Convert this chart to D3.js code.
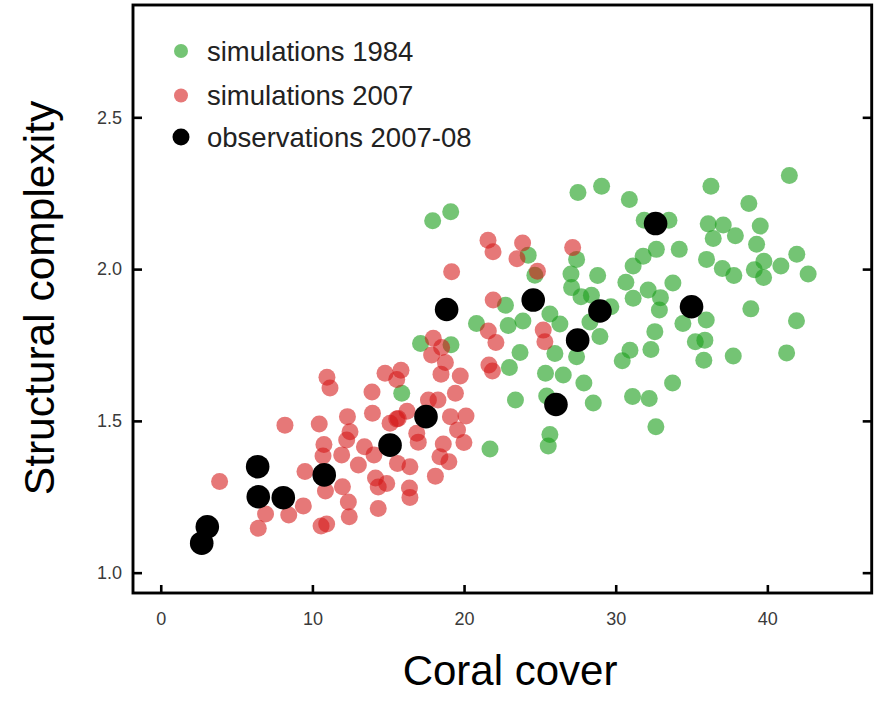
<!DOCTYPE html>
<html>
<head>
<meta charset="utf-8">
<script src="https://cdn.jsdelivr.net/npm/d3@7"></script>
<style>
  html, body { margin: 0; padding: 0; background: #fff; }
  svg { display: block; }
  text { font-family: "Liberation Sans", Arial, sans-serif; }
</style>
</head>
<body>
<svg id="chart" width="880" height="701"></svg>
<script>
// ---- Data (coral cover %, structural complexity) ----
const sim1984X = [17.93,19.12,27.51,29.07,30.90,31.88,33.51,36.28,41.45,38.78,36.10,37.09,37.89,36.43,39.53,39.29,41.94,42.69,40.89,39.77,39.14,39.75,35.99,37.03,37.79,34.19,32.68,31.81,31.15,30.67,33.77,32.14,31.15,32.95,32.88,34.43,35.97,32.58,35.25,35.88,35.81,37.75,41.27,41.92,38.91,32.32,30.94,30.43,33.75,31.11,32.21,32.65,28.81,27.42,27.05,27.09,27.71,28.40,29.68,28.96,28.30,27.42,26.32,25.66,23.88,22.91,22.73,20.82,23.69,22.99,25.99,25.37,26.54,27.90,28.52,23.39,25.45,25.66,25.55,21.71,17.13,19.14,15.89,24.23,24.67];
const sim1984Y = [2.159,2.189,2.252,2.273,2.229,2.161,2.161,2.273,2.308,2.216,2.149,2.145,2.110,2.101,2.142,2.082,2.049,1.984,2.010,2.026,1.998,1.972,2.032,2.002,1.979,2.065,2.065,2.042,2.010,1.957,1.954,1.931,1.904,1.906,1.865,1.821,1.832,1.794,1.761,1.766,1.700,1.714,1.724,1.830,1.869,1.735,1.733,1.698,1.625,1.580,1.574,1.481,1.979,2.032,1.984,1.939,1.909,1.914,1.876,1.778,1.826,1.711,1.819,1.852,1.829,1.814,1.881,1.821,1.725,1.676,1.722,1.657,1.651,1.625,1.559,1.569,1.582,1.455,1.417,1.407,1.755,1.751,1.591,2.046,1.980];

const sim2007X = [3.88,6.43,6.91,8.19,8.44,9.40,9.51,10.45,10.76,10.70,10.86,10.94,10.57,12.31,12.48,12.26,11.93,11.98,12.37,12.43,13.03,13.43,13.96,14.06,14.16,14.34,14.34,14.90,15.61,16.43,16.40,16.43,15.56,16.24,16.88,16.98,18.11,18.41,19.00,18.63,19.10,20.13,19.57,19.99,10.96,11.16,21.58,21.91,19.18,21.92,21.60,22.10,21.87,21.64,17.97,18.52,17.86,18.77,18.48,19.75,19.43,14.79,15.84,15.56,13.93,17.65,18.28,15.66,15.12,23.86,23.49,24.84,27.16,25.22,25.33];
const sim2007Y = [1.300,1.146,1.193,1.486,1.190,1.220,1.333,1.490,1.422,1.384,1.269,1.160,1.154,1.514,1.464,1.437,1.388,1.283,1.233,1.184,1.355,1.415,1.525,1.388,1.312,1.282,1.211,1.294,1.360,1.349,1.279,1.248,1.506,1.532,1.459,1.430,1.318,1.382,1.365,1.424,1.514,1.516,1.470,1.429,1.644,1.608,2.095,2.057,1.991,1.898,1.796,1.758,1.664,1.684,1.772,1.742,1.717,1.692,1.654,1.648,1.591,1.657,1.667,1.636,1.595,1.569,1.569,1.508,1.492,2.086,2.034,1.993,2.071,1.799,1.761];

const obsX = [2.70,3.07,6.39,6.43,8.08,10.78,15.12,17.49,18.85,24.56,26.06,27.49,28.96,32.63,35.00];
const obsY = [1.097,1.151,1.349,1.250,1.247,1.322,1.420,1.514,1.867,1.898,1.554,1.766,1.862,2.150,1.876];

const xTicks = [0, 10, 20, 30, 40];
const yTicks = [1.0, 1.5, 2.0, 2.5];
const legendLabels = ["simulations 1984", "simulations 2007", "observations 2007-08"];
const xTitle = "Coral cover";
const yTitle = "Structural complexity";

// ---- Drawing ----
const svg = d3.select("#chart");
const pLeft = 133, pRight = 871.7, pTop = 5, pBottom = 593;

const x = d3.scaleLinear().domain([-1.83, 46.88]).range([pLeft, pRight]);
const y = d3.scaleLinear().domain([0.933, 2.870]).range([pBottom, pTop]);

const greenFill = "rgb(30,160,30)";
const redFill = "rgb(212,22,22)";

const zip = (xs, ys) => xs.map((v, i) => ({x: v, y: ys[i]}));

svg.append("rect").attr("x", 0).attr("y", 0).attr("width", 880).attr("height", 701).attr("fill", "#fff");

// points
svg.append("g").selectAll("circle").data(zip(sim1984X, sim1984Y)).join("circle")
  .attr("cx", d => x(d.x)).attr("cy", d => y(d.y)).attr("r", 8.5)
  .attr("fill", greenFill).attr("fill-opacity", 0.62);

svg.append("g").selectAll("circle").data(zip(sim2007X, sim2007Y)).join("circle")
  .attr("cx", d => x(d.x)).attr("cy", d => y(d.y)).attr("r", 8.5)
  .attr("fill", redFill).attr("fill-opacity", 0.58);

svg.append("g").selectAll("circle").data(zip(obsX, obsY)).join("circle")
  .attr("cx", d => x(d.x)).attr("cy", d => y(d.y)).attr("r", 11.8)
  .attr("fill", "#000");

// axes
const tickColor = "#000";
const xAxis = svg.append("g").attr("transform", `translate(0,${pBottom})`)
  .call(d3.axisBottom(x).tickValues(xTicks).tickSizeInner(-8).tickSizeOuter(0).tickPadding(19).tickFormat(d3.format("d")));
const yAxis = svg.append("g").attr("transform", `translate(${pLeft},0)`)
  .call(d3.axisLeft(y).tickValues(yTicks).tickSizeInner(-9).tickSizeOuter(0).tickPadding(11).tickFormat(d3.format(".1f")));
const yAxisR = svg.append("g").attr("transform", `translate(${pRight},0)`)
  .call(d3.axisRight(y).tickValues(yTicks).tickSizeInner(-9).tickSizeOuter(0).tickFormat(""));

[xAxis, yAxis, yAxisR].forEach(g => {
  g.select(".domain").remove();
  g.selectAll(".tick line").attr("stroke", tickColor).attr("stroke-width", 2.6);
  g.selectAll(".tick text").attr("fill", "#3a3a3a").attr("font-size", 18)
    .attr("font-family", "'Liberation Sans', Arial, sans-serif");
});

// frame
svg.append("rect").attr("x", pLeft).attr("y", pTop)
  .attr("width", pRight - pLeft).attr("height", pBottom - pTop)
  .attr("fill", "none").attr("stroke", "#000").attr("stroke-width", 2.9);

// legend
const legendColors = [greenFill, redFill, "#000"];
const legendOpac = [0.62, 0.58, 1];
const legendR = [7, 7, 8.5];
const legendY = [51, 95.5, 137];
const lg = svg.append("g");
legendLabels.forEach((lab, i) => {
  lg.append("circle").attr("cx", 181).attr("cy", legendY[i]).attr("r", legendR[i])
    .attr("fill", legendColors[i]).attr("fill-opacity", legendOpac[i]);
  lg.append("text").attr("x", 207).attr("y", legendY[i]).attr("dy", "0.35em")
    .attr("font-size", 27.5).attr("fill", "#222").text(lab);
});

// axis titles
svg.append("text").attr("x", 510).attr("y", 685).attr("text-anchor", "middle")
  .attr("font-size", 42).attr("fill", "#000").text(xTitle);
svg.append("text").attr("transform", "translate(54,298) rotate(-90)")
  .attr("text-anchor", "middle").attr("font-size", 42.5).attr("fill", "#000").text(yTitle);
</script>
</body>
</html>
